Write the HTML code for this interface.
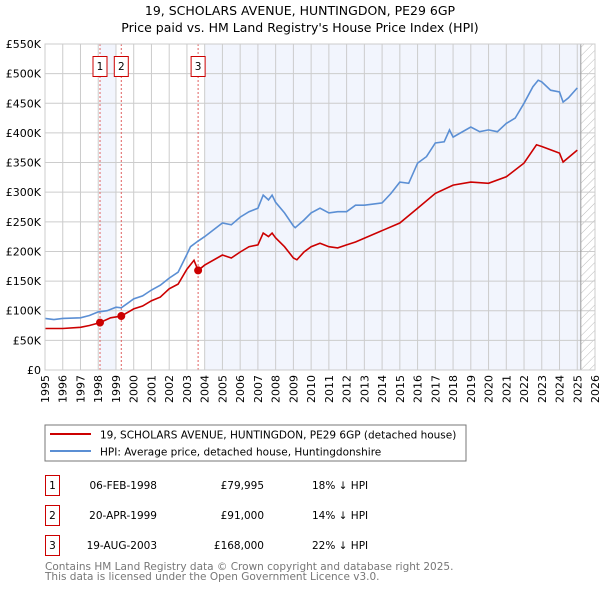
<!DOCTYPE html>
<html><head><meta charset="utf-8"><style>
body{margin:0;background:#fff;}
svg text{font-family:"DejaVu Sans","Liberation Sans",sans-serif;}
</style></head><body>
<svg id="chart" width="600" height="590" viewBox="0 0 600 590" xmlns="http://www.w3.org/2000/svg">
<defs><pattern id="hatch" width="6" height="6" patternUnits="userSpaceOnUse" patternTransform="rotate(45)"><line x1="0" y1="0" x2="0" y2="6" stroke="#bbb" stroke-width="1"/></pattern></defs>
<text x="300" y="15" text-anchor="middle" font-size="12.5">19, SCHOLARS AVENUE, HUNTINGDON, PE29 6GP</text>
<text x="300" y="32" text-anchor="middle" font-size="12.5">Price paid vs. HM Land Registry's House Price Index (HPI)</text>
<g id="plot"></g>
<rect x="45" y="425" width="421" height="36" fill="#fff" stroke="#777"/>
<line x1="50" y1="434" x2="91" y2="434" stroke="#cc0000" stroke-width="2"/>
<text x="100" y="438.5" font-size="10.5">19, SCHOLARS AVENUE, HUNTINGDON, PE29 6GP (detached house)</text>
<line x1="50" y1="451" x2="91" y2="451" stroke="#5b8fd4" stroke-width="2"/>
<text x="100" y="455.5" font-size="10.5">HPI: Average price, detached house, Huntingdonshire</text>
<g font-size="10.5">
<rect x="45.5" y="475.5" width="14" height="20" fill="none" stroke="#cc0000"/><text x="52.5" y="489" text-anchor="middle">1</text>
<text x="157" y="489" text-anchor="end">06-FEB-1998</text><text x="264" y="489" text-anchor="end">£79,995</text><text x="312" y="489">18% ↓ HPI</text>
<rect x="45.5" y="505.5" width="14" height="20" fill="none" stroke="#cc0000"/><text x="52.5" y="519" text-anchor="middle">2</text>
<text x="157" y="519" text-anchor="end">20-APR-1999</text><text x="264" y="519" text-anchor="end">£91,000</text><text x="312" y="519">14% ↓ HPI</text>
<rect x="45.5" y="535.5" width="14" height="20" fill="none" stroke="#cc0000"/><text x="52.5" y="549" text-anchor="middle">3</text>
<text x="157" y="549" text-anchor="end">19-AUG-2003</text><text x="264" y="549" text-anchor="end">£168,000</text><text x="312" y="549">22% ↓ HPI</text>
</g>
<text x="45" y="570" font-size="10.5" fill="#777">Contains HM Land Registry data © Crown copyright and database right 2025.</text>
<text x="45" y="580" font-size="10.5" fill="#777">This data is licensed under the Open Government Licence v3.0.</text>
</svg>
<script>
const hpiYears=[1995,1995.5,1996,1997,1997.5,1998,1998.5,1999,1999.3,2000,2000.5,2001,2001.5,2002,2002.5,2003,2003.2,2003.6,2004,2005,2005.5,2006,2006.5,2007,2007.3,2007.6,2007.8,2008,2008.5,2009,2009.1,2009.6,2010,2010.5,2011,2011.5,2012,2012.5,2013,2014,2014.5,2015,2015.5,2016,2016.5,2017,2017.5,2017.8,2018,2019,2019.5,2020,2020.5,2021,2021.5,2022,2022.5,2022.8,2023,2023.5,2024,2024.2,2024.5,2025];
const hpiValues=[87,85,87,88,92,98,100,106,105,120,125,135,143,155,165,195,208,217,225,248,245,258,267,273,295,287,295,283,265,243,240,253,265,273,265,267,267,278,278,282,298,317,315,349,360,383,385,405,393,410,402,405,402,416,425,450,478,489,486,472,469,452,459,476];
const propYears=[1995,1996,1997,1997.5,1998.1,1998.7,1999.3,2000,2000.5,2001,2001.5,2002,2002.5,2003,2003.4,2003.63,2004,2005,2005.5,2006,2006.5,2007,2007.3,2007.6,2007.8,2008,2008.5,2009,2009.2,2009.6,2010,2010.5,2011,2011.5,2012,2012.5,2015,2016,2017,2018,2019,2020,2021,2022,2022.7,2023,2024,2024.2,2025];
const propValues=[70,70,72,75,80,88,91,103,108,117,123,137,145,170,185,168,177,194,189,199,208,211,231,225,231,223,208,189,186,199,208,214,208,206,211,216,248,273,298,312,317,315,326,349,380,377,366,351,371];
const saleLabels=["1","2","3"];
const saleYears=[1998.1,1999.3,2003.63];
const saleValues=[79.995,91,168];
const yTicks=[0,50,100,150,200,250,300,350,400,450,500,550];
const yTickLabels=["£0","£50K","£100K","£150K","£200K","£250K","£300K","£350K","£400K","£450K","£500K","£550K"];
const xTicks=[1995,1996,1997,1998,1999,2000,2001,2002,2003,2004,2005,2006,2007,2008,2009,2010,2011,2012,2013,2014,2015,2016,2017,2018,2019,2020,2021,2022,2023,2024,2025,2026];

const X0=45,X1=595,Y0=370,Y1=44;
const xs=y=>X0+(y-1995)/(2026-1995)*(X1-X0);
const ys=v=>Y0-v/550*(Y0-Y1);
const NS="http://www.w3.org/2000/svg";
const g=document.getElementById('plot');
function mk(t,a){const e=document.createElementNS(NS,t);for(const k in a)e.setAttribute(k,a[k]);g.appendChild(e);return e;}
let e;
e=mk('rect',{x:X0,y:Y1,width:X1-X0,height:Y0-Y1,fill:'#fff'});


e=mk('rect',{x:xs(saleYears[0]),y:Y1,width:xs(1999)-xs(saleYears[0]),height:Y0-Y1,fill:'#f2f5fd'});


e=mk('rect',{x:xs(2004),y:Y1,width:xs(2025.2)-xs(2004),height:Y0-Y1,fill:'#f2f5fd'});


e=mk('rect',{x:xs(2025.2),y:Y1,width:X1-xs(2025.2),height:Y0-Y1,fill:'url(#hatch)'});


xTicks.forEach((t,i)=>{
 e=mk('line',{x1:xs(t),x2:xs(t),y1:Y1,y2:Y0,stroke:'#ccc','stroke-width':1});
 
 
 e=mk('text',{x:0,y:0,'font-size':11,'text-anchor':'end',transform:`translate(${xs(t)+4},${Y0+5}) rotate(-90)`});
 e.textContent=t;
 
 
});
yTicks.forEach((t,i)=>{
 e=mk('line',{x1:X0,x2:X1,y1:ys(t),y2:ys(t),stroke:'#ccc','stroke-width':1});
 
 
 e=mk('text',{x:X0-4,y:ys(t)+4,'font-size':11,'text-anchor':'end'});
 e.textContent=yTickLabels[i];
 
 
});
e=mk('line',{x1:xs(2025.2),x2:xs(2025.2),y1:Y1,y2:Y0,stroke:'#999','stroke-width':1});


saleYears.forEach((s,i)=>{
 e=mk('line',{x1:xs(s),x2:xs(s),y1:Y1,y2:Y0,stroke:'#e06060','stroke-width':1,'stroke-dasharray':'2,2'});
 
 
 e=mk('rect',{x:xs(s)-7,y:56.5,width:14,height:20,fill:'#fff',stroke:'#cc0000'});
 
 
 e=mk('text',{x:xs(s),y:70,'font-size':10.5,'text-anchor':'middle'});
 e.textContent=saleLabels[i];
 
 
});
function path(xa,va){return xa.map((x,i)=>(i?'L':'M')+xs(x).toFixed(1)+','+ys(va[i]).toFixed(1)).join('');}
e=mk('path',{d:path(hpiYears,hpiValues),fill:'none',stroke:'#5b8fd4','stroke-width':1.6});


e=mk('path',{d:path(propYears,propValues),fill:'none',stroke:'#cc0000','stroke-width':1.6});


saleYears.forEach((s,i)=>{
 e=mk('circle',{cx:xs(s),cy:ys(saleValues[i]),r:4,fill:'#cc0000'});
 
 
});
e=mk('rect',{x:X0,y:Y1,width:X1-X0,height:Y0-Y1,fill:'none',stroke:'#ccc'});


</script>
</body></html>
